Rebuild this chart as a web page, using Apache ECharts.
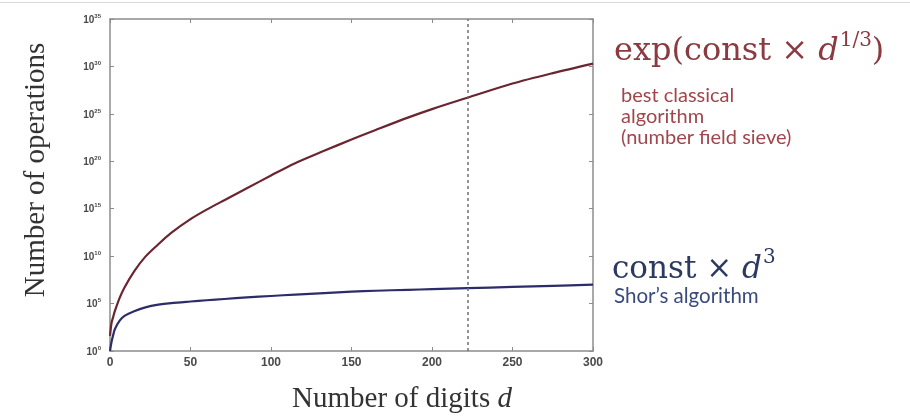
<!DOCTYPE html>
<html><head><meta charset="utf-8">
<script src="https://cdn.jsdelivr.net/npm/echarts@6/dist/echarts.min.js"></script>
<style>html,body{margin:0;padding:0;background:#fff}#c{width:910px;height:416px}</style>
</head><body><div id="c"></div>
<script>
// Number of digits d (x)
const digits = [0, 1, 2, 3, 6, 9, 15, 22, 30, 38, 50, 60, 71, 85, 100, 115, 133, 150, 165, 185, 200, 222, 250, 275, 300];
// log10(number of operations)
const classicalLog10 = [1.6, 3.0, 3.6, 4.2, 5.6, 6.7, 8.4, 9.95, 11.25, 12.45, 13.9, 14.9, 15.9, 17.15, 18.5, 19.8, 21.1, 22.3, 23.3, 24.6, 25.5, 26.7, 28.2, 29.3, 30.3];
const shorLog10 = [0.0, 1.0, 1.7, 2.3, 3.2, 3.7, 4.2, 4.6, 4.88, 5.05, 5.22, 5.35, 5.48, 5.65, 5.8, 5.95, 6.1, 6.25, 6.35, 6.45, 6.52, 6.62, 6.75, 6.87, 7.0];
const xTicks = [0, 50, 100, 150, 200, 250, 300];
const yTickExponents = [0, 5, 10, 15, 20, 25, 30, 35];
const crossoverDigits = 222;

const chart = echarts.init(document.getElementById('c'), null, {renderer: 'canvas'});
const axisColor = '#8c8c8c';
const xMin = xTicks[0], xMax = xTicks[xTicks.length - 1], xStep = xTicks[1] - xTicks[0];
const yMin = yTickExponents[0], yMax = yTickExponents[yTickExponents.length - 1], yStep = yTickExponents[1] - yTickExponents[0];

const baseAxis = {
  type: 'value',
  axisLine: {show: true, onZero: false, lineStyle: {color: axisColor, width: 1.5}},
  axisTick: {show: true, inside: true, length: 4, lineStyle: {color: axisColor, width: 1}},
  splitLine: {show: false}
};

const redText = '#8a3a40';
const redSub = '#a0464c';
const blueText = '#2c3a60';

const option = {
  animation: false,
  backgroundColor: '#ffffff',
  grid: {left: 110, right: 317, top: 19, bottom: 65},
  xAxis: [
    Object.assign({}, baseAxis, {
      position: 'bottom', min: xMin, max: xMax, interval: xStep,
      axisLabel: {color: '#4a4a4a', fontSize: 12, fontWeight: 'bold', fontFamily: 'Liberation Sans', margin: 6}
    }),
    Object.assign({}, baseAxis, {
      position: 'top', min: xMin, max: xMax, interval: xStep, axisLabel: {show: false}
    })
  ],
  yAxis: [
    Object.assign({}, baseAxis, {
      position: 'left', min: yMin, max: yMax, interval: yStep,
      axisLabel: {
        margin: 9,
        formatter: v => '{b|10}{s|' + v + '}',
        rich: {
          b: {fontSize: 10, color: '#4a4a4a', fontFamily: 'Liberation Sans', fontWeight: 'bold', lineHeight: 12, verticalAlign: 'bottom'},
          s: {fontSize: 6, color: '#4a4a4a', fontFamily: 'Liberation Sans', fontWeight: 'bold', lineHeight: 12, verticalAlign: 'top'}
        }
      }
    }),
    Object.assign({}, baseAxis, {
      position: 'right', min: yMin, max: yMax, interval: yStep, axisLabel: {show: false}
    })
  ],
  series: [
    {
      name: 'classical', type: 'line', xAxisIndex: 0, yAxisIndex: 0,
      data: digits.map((d, i) => [d, classicalLog10[i]]),
      showSymbol: false, smooth: 0.3,
      lineStyle: {color: '#6a2530', width: 2.2, join: 'round'},
      markLine: {
        silent: true, symbol: ['none', 'none'], label: {show: false},
        lineStyle: {type: [3, 3], color: '#6f6f6f', width: 1.5},
        data: [{xAxis: crossoverDigits}]
      }
    },
    {
      name: 'shor', type: 'line', xAxisIndex: 0, yAxisIndex: 0,
      data: digits.map((d, i) => [d, shorLog10[i]]),
      showSymbol: false, smooth: 0.3,
      lineStyle: {color: '#2c2c6a', width: 2.2, join: 'round'}
    }
  ],
  graphic: [
    {type: 'line', shape: {x1: 0, y1: 2.5, x2: 910, y2: 2.5}, style: {stroke: '#d8d8d8', lineWidth: 1}},
    {type: 'text', x: 36, y: 170, rotation: Math.PI / 2,
      style: {text: 'Number of operations', font: '29px "Liberation Serif"', fill: '#333', textAlign: 'center', textVerticalAlign: 'middle'}},
    {type: 'text', x: 402, y: 399,
      style: {text: '{a|Number of digits }{i|d}', textAlign: 'center', textVerticalAlign: 'middle',
        rich: {a: {font: '29px "Liberation Serif"', fill: '#333'}, i: {font: 'italic 29px "Liberation Serif"', fill: '#333'}}}},
    {type: 'text', x: 614, y: 48,
      style: {text: '{a|exp(const × }{i|d}{s|1/3}{a|)}', textAlign: 'left', textVerticalAlign: 'middle',
        rich: {
          a: {font: '32px "DejaVu Serif"', fill: redText, lineHeight: 40, verticalAlign: 'bottom'},
          i: {font: 'italic 32px "DejaVu Serif"', fill: redText, lineHeight: 40, verticalAlign: 'bottom'},
          s: {font: '20px "DejaVu Serif"', fill: redText, lineHeight: 40, verticalAlign: 'top', padding: [3, 0, 0, 1]}
        }}},
    {type: 'text', x: 621, y: 96, style: {text: 'best classical', font: '20px Lato', fill: redSub, textVerticalAlign: 'middle'}},
    {type: 'text', x: 621, y: 117, style: {text: 'algorithm', font: '20px Lato', fill: redSub, textVerticalAlign: 'middle'}},
    {type: 'text', x: 621, y: 138, style: {text: '(number field sieve)', font: '20px Lato', fill: redSub, textVerticalAlign: 'middle'}},
    {type: 'text', x: 612, y: 265,
      style: {text: '{a|const × }{i|d}{s|3}', textAlign: 'left', textVerticalAlign: 'middle',
        rich: {
          a: {font: '31px "DejaVu Serif"', fill: blueText, lineHeight: 40, verticalAlign: 'bottom'},
          i: {font: 'italic 31px "DejaVu Serif"', fill: blueText, lineHeight: 40, verticalAlign: 'bottom'},
          s: {font: '20px "DejaVu Serif"', fill: blueText, lineHeight: 40, verticalAlign: 'top', padding: [3, 0, 0, 1]}
        }}},
    {type: 'text', x: 614, y: 296, style: {text: 'Shor\u2019s algorithm', font: '20.5px Lato', fill: '#3b4a7c', textVerticalAlign: 'middle'}}
  ]
};
chart.setOption(option);
</script>
</body></html>
